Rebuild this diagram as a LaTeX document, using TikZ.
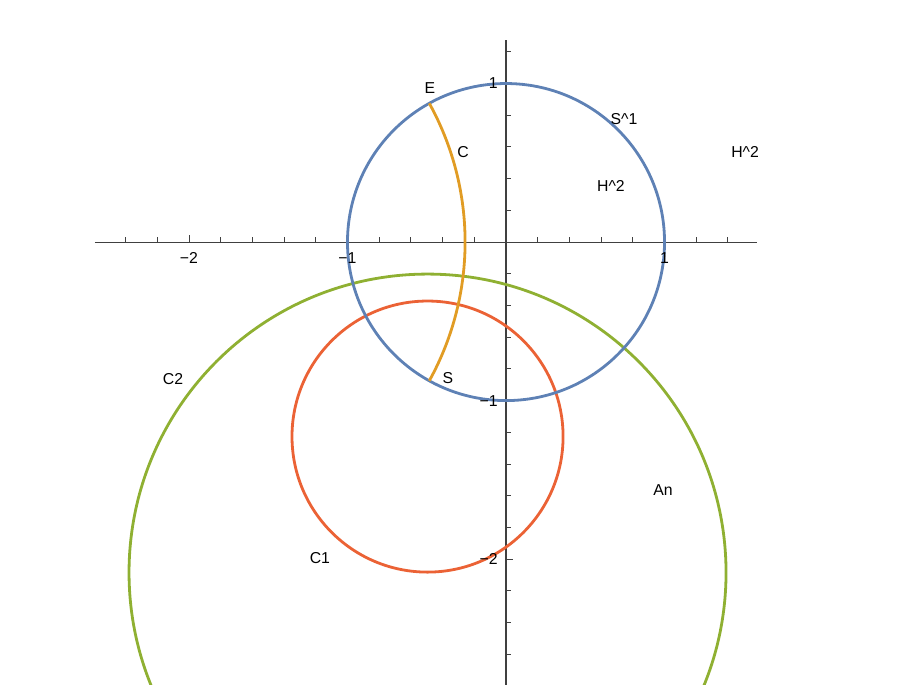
\documentclass[tikz,border=0pt]{standalone}
\usepackage{fontspec}
\setmainfont{Liberation Sans}
\definecolor{mblue}{HTML}{5E81B5}
\definecolor{morange}{HTML}{E19C24}
\definecolor{mgreen}{HTML}{8FB032}
\definecolor{mred}{HTML}{EB6235}
\begin{document}
\begin{tikzpicture}[x=79.25pt,y=79.25pt,
  font=\fontsize{7.9}{9}\selectfont,
  axisline/.style={line width=0.55pt, draw=black!75},
  tickline/.style={line width=0.45pt, draw=black!75},
  curve/.style={line width=1.4pt},
  lbl/.style={inner sep=0pt}]
\useasboundingbox (-3.192,-2.789) rectangle (2.479,1.527);
\begin{scope}
\clip (-3.192,-2.789) rectangle (2.479,1.527);
% axes
\draw[axisline] (-2.593,0) -- (1.584,0);
\draw[axisline] (0,-2.80) -- (0,1.274);
% x ticks
\foreach \t in {-2.4,-2.2,-1.8,-1.6,-1.4,-1.2,-0.8,-0.6,-0.4,-0.2,0.2,0.4,0.6,0.8,1.2,1.4}
  \draw[tickline] (\t,0) -- (\t,0.03);
\foreach \t in {-2,-1,1}
  \draw[tickline] (\t,0) -- (\t,0.045);
% y ticks
\foreach \t in {-2.6,-2.4,-2.2,-1.8,-1.6,-1.4,-1.2,-0.8,-0.6,-0.4,-0.2,0.2,0.4,0.6,0.8,1.2}
  \draw[tickline] (0,\t) -- (0.03,\t);
\foreach \t in {-2,-1,1}
  \draw[tickline] (0,\t) -- (0.045,\t);
% curves
\draw[curve, mgreen] (-0.495,-2.085) circle (1.883);
\draw[curve, mred] (-0.495,-1.227) circle (0.855);
\draw[curve, mblue] (0,0) circle (1);
\draw[curve, morange] (-2.066,0) ++(28.95:1.808) arc[start angle=28.95, end angle=-28.95, radius=1.808];
\end{scope}
% tick labels
\node[lbl] (xm2) at (-2,-0.101) {−2};
\node[lbl] (xm1) at (-1,-0.101) {−1};
\node[lbl] (xp1) at (1,-0.101) {1};
\node[lbl, anchor=east] (yp1) at (-0.05,1.0) {1};
\node[lbl, anchor=east] (ym1) at (-0.05,-1.0) {−1};
\node[lbl, anchor=east] (ym2) at (-0.05,-2.0) {−2};
% labels
\node[lbl] (E) at (-0.480,0.972) {E};
\node[lbl] (C) at (-0.271,0.568) {C};
\node[lbl] (S1) at (0.744,0.776) {S\^{}1};
\node[lbl] (Hin) at (0.662,0.353) {H\^{}2};
\node[lbl] (Hout) at (1.508,0.568) {H\^{}2};
\node[lbl] (S) at (-0.366,-0.858) {S};
\node[lbl] (C2) at (-2.101,-0.864) {C2};
\node[lbl] (An) at (0.991,-1.565) {An};
\node[lbl] (C1) at (-1.174,-1.994) {C1};
\end{tikzpicture}
\end{document}
